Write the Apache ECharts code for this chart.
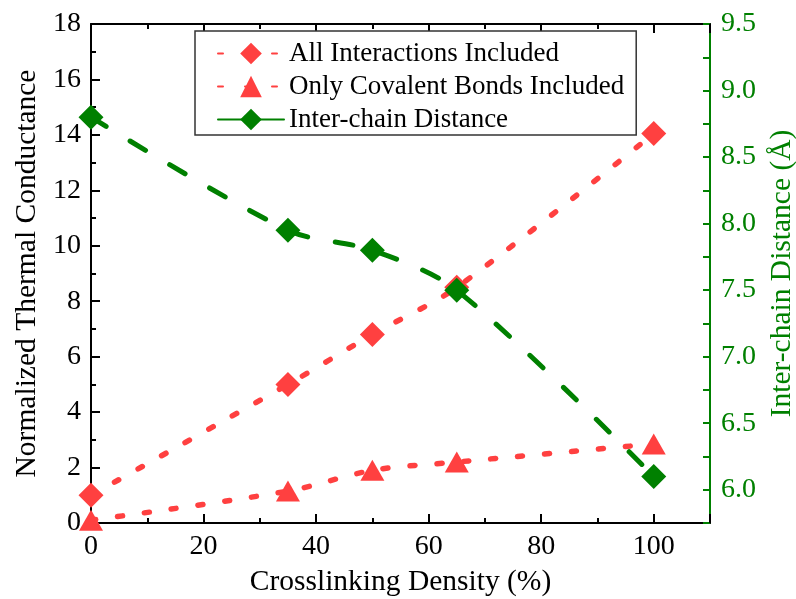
<!DOCTYPE html>
<html>
<head>
<meta charset="utf-8">
<script src="https://cdn.jsdelivr.net/npm/echarts@6/dist/echarts.min.js"></script>
<style>
  html, body { margin: 0; padding: 0; background: #fff; }
  #chart { width: 796px; height: 599px; }
</style>
</head>
<body>
<div id="chart"></div>
<script>
// crosslinking density (%)
var density = [0, 35, 50, 65, 100]
// normalized thermal conductance
var allInteractions = [1.0, 5.0, 6.8, 8.5, 14.05]
var covalentOnly = [0.1, 1.15, 1.9, 2.2, 2.85]
// inter-chain distance (Å)
var interChain = [8.8, 7.95, 7.8, 7.5, 6.1]

var RED = '#FF4040'
var GREEN = '#008000'
var FONT = '"Liberation Serif", "DejaVu Serif", serif'

function pairs(xs, ys) {
  return xs.map(function (x, i) { return [x, ys[i]] })
}

var myChart = echarts.init(document.getElementById('chart'))
var option = {
  animation: false,
  textStyle: { fontFamily: FONT },
  grid: { left: 91, top: 24, right: 86, bottom: 76, containLabel: false, outerBoundsMode: 'none' },
  legend: {
    left: 195,
    top: 31,
    orient: 'vertical',
    backgroundColor: '#fff',
    borderColor: '#333',
    borderWidth: 1.5,
    borderRadius: 0,
    padding: [9, 12, 2, 22],
    itemWidth: 66,
    itemHeight: 27,
    itemGap: 6,
    textStyle: { fontFamily: FONT, fontSize: 27, color: '#000' },
    data: [
      { name: 'All Interactions Included' },
      { name: 'Only Covalent Bonds Included' },
      { name: 'Inter-chain Distance', lineStyle: { type: 'solid' } }
    ]
  },
  xAxis: [
    {
      type: 'value',
      min: 0,
      max: 110,
      interval: 20,
      name: 'Crosslinking Density (%)',
      nameLocation: 'middle',
      nameGap: 44,
      nameTextStyle: { fontFamily: FONT, fontSize: 29.5, color: '#000' },
      axisLine: { show: true, onZero: false, lineStyle: { color: '#000', width: 2 } },
      axisTick: { show: true, inside: true, length: 9, lineStyle: { color: '#000', width: 2 } },
      minorTick: { show: true, splitNumber: 2, length: 5, lineStyle: { color: '#000', width: 2 } },
      axisLabel: {
        fontFamily: FONT, fontSize: 28, color: '#000', margin: 10,
        formatter: function (v) { return v > 100 ? '' : v }
      },
      splitLine: { show: false }
    },
    {
      type: 'value',
      position: 'top',
      min: 0,
      max: 110,
      interval: 20,
      axisLine: { show: true, onZero: false, lineStyle: { color: '#000', width: 2 } },
      axisTick: { show: true, inside: true, length: 9, lineStyle: { color: '#000', width: 2 } },
      minorTick: { show: true, splitNumber: 2, length: 5, lineStyle: { color: '#000', width: 2 } },
      axisLabel: { show: false },
      splitLine: { show: false }
    }
  ],
  yAxis: [
    {
      type: 'value',
      min: 0,
      max: 18,
      interval: 2,
      name: 'Normalized Thermal Conductance',
      nameLocation: 'middle',
      nameGap: 49,
      nameTextStyle: { fontFamily: FONT, fontSize: 29.5, color: '#000' },
      axisLine: { show: true, onZero: false, lineStyle: { color: '#000', width: 2 } },
      axisTick: { show: true, inside: true, length: 9, lineStyle: { color: '#000', width: 2 } },
      minorTick: { show: true, splitNumber: 2, length: 5, lineStyle: { color: '#000', width: 2 } },
      axisLabel: { fontFamily: FONT, fontSize: 28, color: '#000', margin: 10 },
      splitLine: { show: false }
    },
    {
      type: 'value',
      position: 'right',
      min: 5.75,
      max: 9.5,
      interval: 0.25,
      name: 'Inter-chain Distance (Å)',
      nameLocation: 'middle',
      nameGap: 56,
      nameRotate: 90,
      nameTextStyle: { fontFamily: FONT, fontSize: 29.5, color: GREEN },
      axisLine: { show: true, onZero: false, lineStyle: { color: GREEN, width: 2 } },
      axisTick: { show: true, inside: true, length: 7, lineStyle: { color: GREEN, width: 2 } },
      axisLabel: {
        fontFamily: FONT, fontSize: 28, color: GREEN, margin: 11,
        formatter: function (v) {
          var r = Math.round(v * 100)
          return r % 50 === 0 ? v.toFixed(1) : ''
        }
      },
      splitLine: { show: false }
    }
  ],
  series: [
    {
      name: 'All Interactions Included',
      type: 'line',
      xAxisIndex: 0,
      yAxisIndex: 0,
      smooth: 0.3,
      data: pairs(density, allInteractions),
      symbol: 'diamond',
      symbolSize: [25, 25],
      itemStyle: { color: RED },
      lineStyle: { color: RED, width: 5.5, type: [5, 22], cap: 'round' },
      z: 2
    },
    {
      name: 'Only Covalent Bonds Included',
      type: 'line',
      xAxisIndex: 0,
      yAxisIndex: 0,
      smooth: 0.3,
      data: pairs(density, covalentOnly),
      symbol: 'triangle',
      symbolSize: [24, 21],
      itemStyle: { color: RED },
      lineStyle: { color: RED, width: 5.5, type: [5, 22], cap: 'round' },
      z: 2
    },
    {
      name: 'Inter-chain Distance',
      type: 'line',
      xAxisIndex: 0,
      yAxisIndex: 1,
      smooth: 0.3,
      data: pairs(density, interChain),
      symbol: 'diamond',
      symbolSize: [25, 25],
      itemStyle: { color: GREEN },
      lineStyle: { color: GREEN, width: 5, type: [18, 28], cap: 'round' },
      z: 3
    }
  ]
}

option && myChart.setOption(option)
</script>
</body>
</html>
